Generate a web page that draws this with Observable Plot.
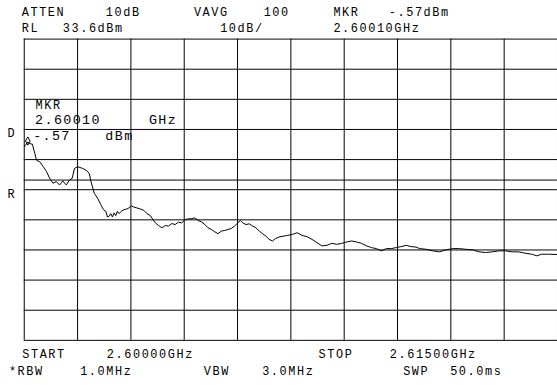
<!DOCTYPE html>
<html>
<head>
<meta charset="utf-8">
<script src="https://cdn.jsdelivr.net/npm/d3@7"></script>
<script src="https://cdn.jsdelivr.net/npm/@observablehq/plot@0.6"></script>
<style>
  html, body { margin: 0; padding: 0; background: #fff; overflow: hidden; }
  #chart { width: 557px; height: 385px; overflow: hidden; position: relative; }
  #chart svg { display: block; }
</style>
</head>
<body>
<div id="chart"></div>
<script>
// ---- Data ----
const freqMHz = [
  2600.000, 2600.047, 2600.100, 2600.159, 2600.228, 2600.298, 2600.345, 2600.437, 2600.529, 2600.624,
  2600.716, 2600.808, 2600.902, 2600.994, 2601.086, 2601.181, 2601.273, 2601.348, 2601.412, 2601.504,
  2601.643, 2601.738, 2601.830, 2601.877, 2601.969, 2602.061, 2602.156, 2602.228, 2602.295, 2602.339,
  2602.387, 2602.434, 2602.479, 2602.526, 2602.573, 2602.618, 2602.665, 2602.729, 2602.804, 2602.880,
  2602.944, 2603.008, 2603.083, 2603.175, 2603.270, 2603.361, 2603.453, 2603.548, 2603.621, 2603.687,
  2603.779, 2603.871, 2603.966, 2604.058, 2604.150, 2604.244, 2604.336, 2604.428, 2604.523, 2604.615,
  2604.707, 2604.801, 2604.893, 2604.985, 2605.080, 2605.172, 2605.264, 2605.358, 2605.450, 2605.542,
  2605.637, 2605.729, 2605.821, 2605.915, 2606.007, 2606.083, 2606.147, 2606.238, 2606.333, 2606.425,
  2606.517, 2606.612, 2606.703, 2606.795, 2606.890, 2606.982, 2607.074, 2607.169, 2607.308, 2607.400,
  2607.539, 2607.678, 2607.817, 2607.957, 2608.096, 2608.235, 2608.374, 2608.514, 2608.653, 2608.792,
  2608.931, 2609.071, 2609.210, 2609.349, 2609.488, 2609.628, 2609.767, 2609.906, 2610.045, 2610.185,
  2610.324, 2610.463, 2610.602, 2610.742, 2610.881, 2611.020, 2611.123, 2611.307, 2611.494, 2611.680,
  2611.864, 2612.051, 2612.237, 2612.421, 2612.608, 2612.794, 2612.978, 2613.165, 2613.351, 2613.535,
  2613.722, 2613.908, 2614.092, 2614.279, 2614.418, 2614.557, 2614.744, 2615.000
];
const levelDbm = [
  -2.11, -1.45, -0.57, -1.12, -1.29, -4.41, -6.61, -7.14, -8.68, -10.32,
  -12.62, -14.26, -13.71, -14.82, -13.51, -14.82, -13.18, -12.62, -9.34, -8.78,
  -9.34, -9.90, -10.98, -13.71, -17.55, -19.19, -21.39, -23.04, -23.56, -25.44,
  -25.21, -24.35, -25.44, -24.12, -25.01, -23.56, -24.35, -23.56, -23.04, -22.81,
  -22.48, -21.72, -22.15, -22.48, -22.81, -23.23, -24.35, -25.01, -26.32, -27.41,
  -28.29, -29.05, -28.29, -28.49, -27.64, -27.96, -27.18, -27.41, -26.32, -26.09,
  -25.99, -25.76, -26.65, -27.08, -27.96, -29.05, -29.61, -30.36, -31.02, -30.13,
  -29.94, -29.61, -29.28, -28.49, -27.41, -26.65, -27.41, -27.96, -27.73, -28.49,
  -29.05, -30.13, -31.02, -31.78, -32.89, -33.42, -32.56, -32.10, -31.78, -31.58,
  -31.25, -30.69, -31.58, -32.01, -32.89, -33.98, -35.06, -34.86, -34.21, -34.53,
  -34.21, -33.75, -33.42, -33.75, -34.21, -35.06, -35.62, -35.95, -36.70, -35.95,
  -35.95, -35.62, -35.29, -34.86, -35.29, -35.46, -35.95, -36.18, -36.70, -37.03,
  -36.37, -35.95, -35.95, -36.18, -36.37, -37.03, -37.26, -37.03, -36.70, -36.70,
  -37.03, -37.03, -37.49, -37.82, -38.35, -37.82, -37.82, -37.92
];
const gridFreq = [2600, 2601.5, 2603, 2604.5, 2606, 2607.5, 2609, 2610.5, 2612, 2613.5, 2615];
const gridLevel = [33.6, 23.6, 13.6, 3.6, -6.4, -16.4, -26.4, -36.4, -46.4, -56.4, -66.4];
const displayLineDbm = [-13.2];
const markerFreq = [2600.10];
const markerLevel = [-0.57];

const headerTexts = ["ATTEN", "10dB", "VAVG", "100", "MKR", "-.57dBm",
                     "RL", "33.6dBm", "10dB/", "2.60010GHz"];
const footerTexts = ["START", "2.60000GHz", "STOP", "2.61500GHz",
                     "*RBW", "1.0MHz", "VBW", "3.0MHz", "SWP", "50.0ms"];
const readoutTexts = ["MKR", "2.60010", "GHz", "-.57", "dBm"];
const sideTexts = ["D", "R"];

// ---- Layout (pixel positions of the instrument texts) ----
const headerPos = [[22,16],[107,16],[196,16],[266.5,16],[337,16],[393,16],
                   [22,32],[63.5,32],[222.5,32],[337,32]];
const footerPos = [[22.5,362.3],[108,362.3],[322,362.3],[394,362.3],
                   [9,379.3],[81,379.3],[206,379.3],[265,379.3],[407.5,379.3],[455,379.3]];
const readoutPos = [[36,110.5,12],[35.5,125.5,13.5],[150.5,125.5,13.5],[33.5,141.5,13.5],[106.5,141.5,13.5]];
const sidePos = [[7.5,138.5],[7.5,200.5]];

const trace = freqMHz.map((f, i) => ({f, v: levelDbm[i]}));
const marker = markerFreq.map((f, i) => ({f, v: markerLevel[i]}));

const chart = Plot.plot({
  width: 563,
  height: 385,
  marginLeft: 24,
  marginRight: 0,
  marginTop: 39,
  marginBottom: 41.5,
  style: {background: "#fff", overflow: "visible"},
  x: {domain: [2600, 2615], axis: null},
  y: {domain: [-66.4, 33.6], axis: null},
  marks: [
    Plot.ruleX(gridFreq, {stroke: "#000", strokeWidth: 1}),
    Plot.ruleY(gridLevel, {stroke: "#000", strokeWidth: 1}),
    Plot.ruleY(displayLineDbm, {stroke: "#000", strokeWidth: 1}),
    Plot.line(trace, {x: "f", y: "v", stroke: "#000", strokeWidth: 1}),
    Plot.dot(marker, {x: "f", y: "v", symbol: "diamond", r: 2.5, stroke: "#000", strokeWidth: 1, fill: "none", dy: -1})
  ]
});

const svg = d3.select(chart);
const g = svg.append("g")
  .attr("font-family", "'Liberation Mono', 'DejaVu Sans Mono', monospace")
  .attr("text-anchor", "start")
  .attr("fill", "#000");

function addTexts(texts, pos, size, spacing) {
  texts.forEach((t, i) => {
    const p = pos[i];
    const fs = p[2] || size;
    g.append("text")
      .attr("x", p[0])
      .attr("y", p[1])
      .attr("text-anchor", "start")
      .attr("font-size", fs)
      .style("letter-spacing", (fs > 12 ? 1.4 : spacing) + "px")
      .text(t);
  });
}
addTexts(headerTexts, headerPos, 12, 1.6);
addTexts(footerTexts, footerPos, 12, 1.6);
addTexts(readoutTexts, readoutPos, 12, 1.6);
addTexts(sideTexts, sidePos, 12, 1.6);

document.getElementById("chart").appendChild(chart);
</script>
</body>
</html>
